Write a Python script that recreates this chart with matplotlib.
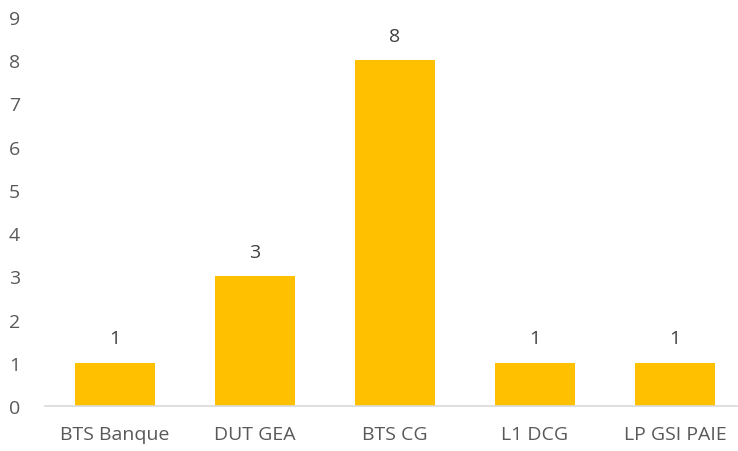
import matplotlib
matplotlib.use("Agg")
import matplotlib.pyplot as plt

categories = ["BTS Banque", "DUT GEA", "BTS CG", "L1 DCG", "LP GSI PAIE"]
values = [1, 3, 8, 1, 1]
yticks = list(range(0, 10))

plt.rcParams['font.family'] = ['Open Sans', 'DejaVu Sans']
fig = plt.figure(figsize=(7.38, 4.52), dpi=100)
ax = fig.add_axes([45/738, 45/452, 700/738, (407-18)/452])
x = range(len(categories))
bars = ax.bar(x, values, width=0.57, color="#FFC000", zorder=2)
for xi, v in zip(x, values):
    ax.annotate(str(v), (xi, v), xytext=(0, 11), textcoords="offset points",
                ha="center", va="bottom", fontsize=14, color="#404040")
ax.set_xlim(-0.5, len(categories) - 0.5)
ax.set_ylim(0, 9)
ax.set_yticks(yticks)
ax.set_xticks(list(x))
ax.set_xticklabels(categories)
for s in ["top", "right", "left"]:
    ax.spines[s].set_visible(False)
ax.spines["bottom"].set_color("#D9D9D9")
ax.spines["bottom"].set_linewidth(1.2)
ax.tick_params(axis="both", length=0, labelsize=14, labelcolor="#595959")
ax.tick_params(axis="y", pad=26)
ax.tick_params(axis="x", pad=14)
for lbl in ax.get_yticklabels():
    lbl.set_horizontalalignment("left")
fig.savefig("out.png", dpi=100)
